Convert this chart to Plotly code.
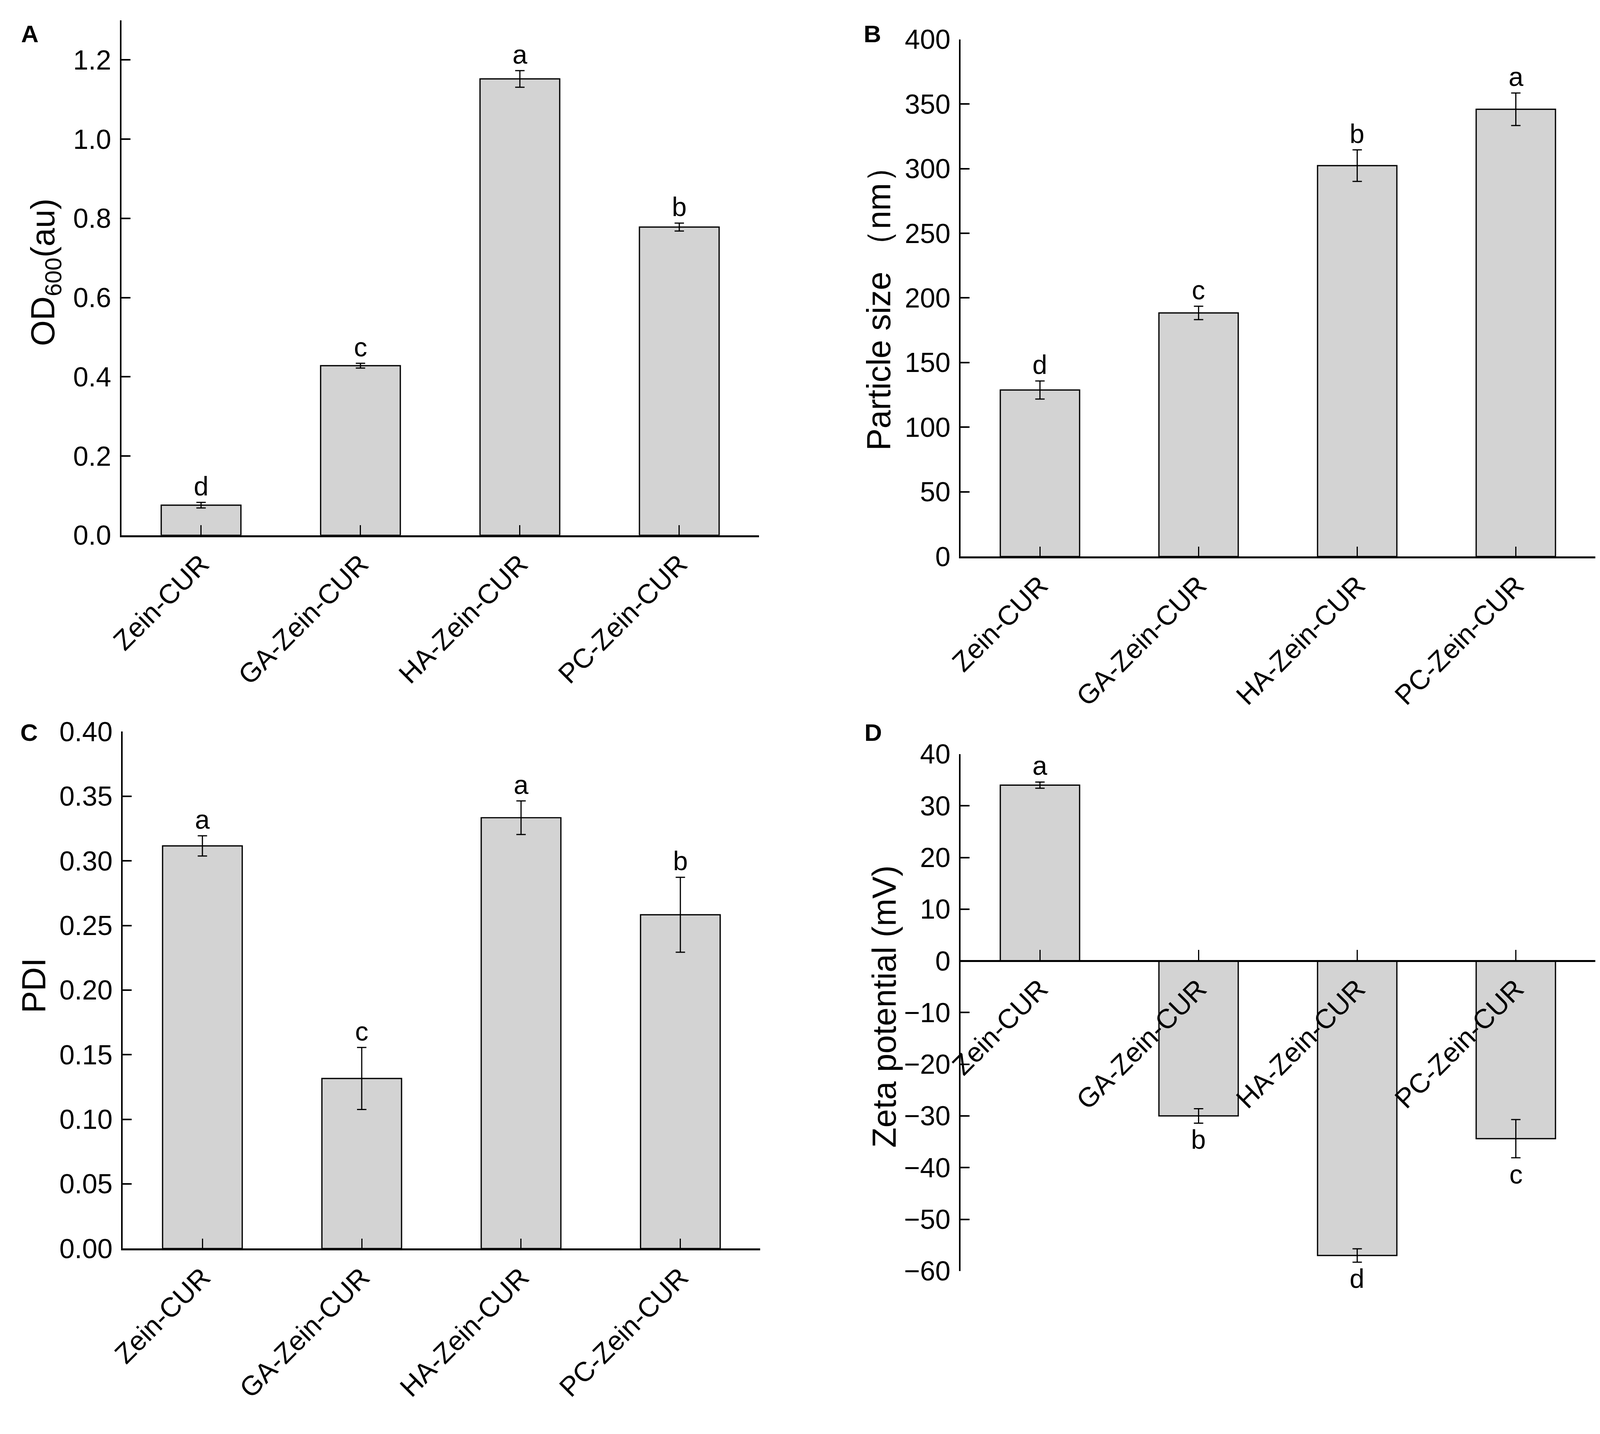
import plotly.graph_objects as go

W, H = 4550, 3670   # reference canvas, used only to turn measured positions into fractions

categories = ["Zein-CUR", "GA-Zein-CUR", "HA-Zein-CUR", "PC-Zein-CUR"]

od600 = [0.076, 0.428, 1.152, 0.778]
od600_err = [0.007, 0.006, 0.021, 0.010]
od600_letters = ["d", "c", "a", "b"]

size_nm = [128.8, 188.4, 302.3, 345.9]
size_err = [7.0, 5.2, 12.2, 12.6]
size_letters = ["d", "c", "b", "a"]

pdi = [0.3116, 0.1316, 0.3334, 0.2583]
pdi_err = [0.0078, 0.0240, 0.0130, 0.0290]
pdi_letters = ["a", "c", "a", "b"]

zeta = [34.0, -30.0, -57.0, -34.4]
zeta_err = [0.6, 1.4, 1.3, 3.7]
zeta_letters = ["a", "b", "d", "c"]

FONT = "Liberation Sans, Arial, sans-serif"
TICK_FS = 70
TITLE_FS = 85
LETTER_FS = 68
PANEL_FS = 62

def px(x):
    return x / W

def py(y):
    return 1 - y / H

panels = [
    dict(v=od600, e=od600_err, l=od600_letters, xd=(299, 2136), yd=(5, 1358), rng=[0, 1.3], tick=[0, 0.2, 0.4, 0.6, 0.8, 1.0, 1.2], fmt=".1f"),
    dict(v=size_nm, e=size_err, l=size_letters, xd=(2717, 4545), yd=(55, 1414), rng=[0, 400], tick=[0, 50, 100, 150, 200, 250, 300, 350, 400], fmt="d"),
    dict(v=pdi, e=pdi_err, l=pdi_letters, xd=(303, 2139), yd=(1874, 3232), rng=[0, 0.40], tick=[0, 0.05, 0.10, 0.15, 0.20, 0.25, 0.30, 0.35, 0.40], fmt=".2f"),
    dict(v=zeta, e=zeta_err, l=zeta_letters, xd=(2717, 4545), yd=(1933, 3291), rng=[-60, 40], tick=[-60, -50, -40, -30, -20, -10, 0, 10, 20, 30, 40], fmt="d"),
]

fig = go.Figure()
annotations = []
layout = {}

for i, p in enumerate(panels, start=1):
    xa = "x" if i == 1 else f"x{i}"
    ya = "y" if i == 1 else f"y{i}"
    fig.add_trace(go.Bar(
        x=categories, y=p["v"], width=0.5,
        marker=dict(color="#d3d3d3", line=dict(color="black", width=3.2)),
        error_y=dict(type="data", array=p["e"], visible=True, color="black", thickness=3.0, width=12),
        xaxis=xa, yaxis=ya, showlegend=False,
    ))
    xkey = "xaxis" if i == 1 else f"xaxis{i}"
    ykey = "yaxis" if i == 1 else f"yaxis{i}"
    xaxis = dict(
        domain=[px(p["xd"][0]), px(p["xd"][1])],
        anchor=ya, range=[-0.5, 3.5], type="category",
        showline=True, linecolor="black", linewidth=4.5,
        ticks="inside", ticklen=26, tickwidth=3.2, tickcolor="black",
        tickangle=-45, tickfont=dict(family=FONT, size=TICK_FS, color="black"),
        showgrid=False, zeroline=False,
    )
    if i == 4:
        zero_px = p["yd"][0] + (p["rng"][1] - 0) / (p["rng"][1] - p["rng"][0]) * (p["yd"][1] - p["yd"][0])
        xaxis["anchor"] = "free"
        xaxis["position"] = py(zero_px)
    layout[xkey] = xaxis
    layout[ykey] = dict(
        domain=[py(p["yd"][1]), py(p["yd"][0])],
        anchor=xa, range=p["rng"],
        tickvals=p["tick"], tickformat=p["fmt"],
        showline=True, linecolor="black", linewidth=4.2,
        ticks="inside", ticklen=23, tickwidth=3.5, tickcolor="black",
        tickfont=dict(family=FONT, size=TICK_FS, color="black"),
        ticklabelstandoff=8,
        showgrid=False, zeroline=False,
    )
    for c, v, e, l in zip(categories, p["v"], p["e"], p["l"]):
        if v >= 0:
            annotations.append(dict(x=c, y=v + e, xref=xa, yref=ya, text=l, showarrow=False,
                                    yanchor="bottom", yshift=2,
                                    font=dict(family=FONT, size=LETTER_FS, color="black")))
        else:
            annotations.append(dict(x=c, y=v - e, xref=xa, yref=ya, text=l, showarrow=False,
                                    yanchor="top", yshift=-2,
                                    font=dict(family=FONT, size=LETTER_FS, color="black")))

titles = [
    ("OD<sub>600</sub>(au)", 80, 667),
    ("Particle size （nm）", 2481, 741),
    ("PDI", 46, 2541),
    ("Zeta potential (mV)", 2497, 2596),
]
for t, x, y in titles:
    annotations.append(dict(x=px(x), y=py(y), xref="paper", yref="paper", text=t, textangle=-90,
                            showarrow=False, xanchor="center", yanchor="middle",
                            font=dict(family=FONT, size=TITLE_FS, color="black")))

for t, x, y in [("A", 36, 41), ("B", 2463, 41), ("C", 33, 1876), ("D", 2465, 1876)]:
    annotations.append(dict(x=px(x), y=py(y), xref="paper", yref="paper", text=f"<b>{t}</b>",
                            showarrow=False, xanchor="center", yanchor="middle",
                            font=dict(family=FONT, size=PANEL_FS, color="black")))

fig.update_layout(
    autosize=True,
    margin=dict(l=0, r=0, t=0, b=0),
    paper_bgcolor="white", plot_bgcolor="white",
    annotations=annotations,
    **layout,
)

fig.write_html("out.html")
